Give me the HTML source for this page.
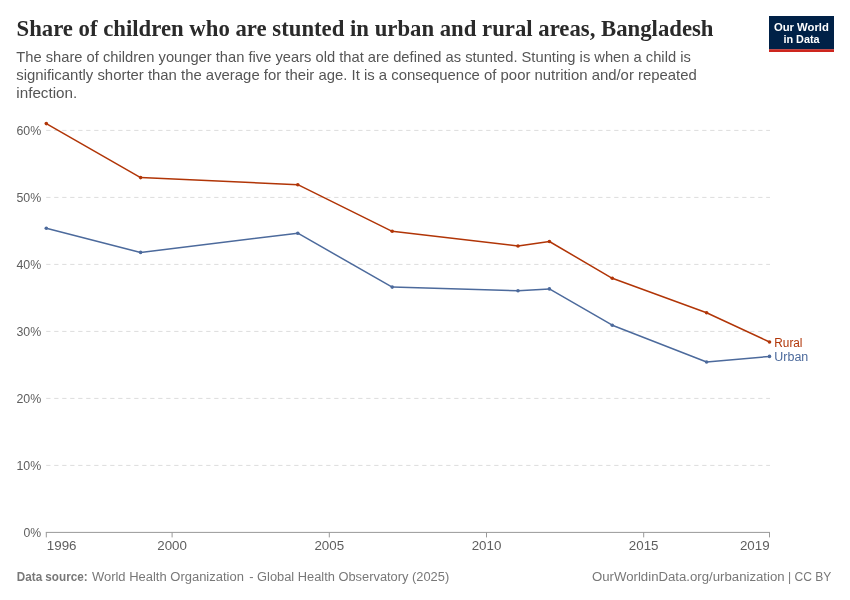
<!DOCTYPE html>
<html lang="en"><head><meta charset="utf-8"><title>Share of children who are stunted in urban and rural areas, Bangladesh</title>
<style>
html,body{margin:0;padding:0;background:#fff;}
body{width:850px;height:600px;overflow:hidden;}
svg{display:block;}
text{font-family:"Liberation Sans",sans-serif;}
.title{font-family:"Liberation Serif",serif;font-weight:bold;font-size:24px;fill:#2a2a2a;}
.sub{font-size:15px;fill:#555;}
.tick{font-size:13px;fill:#5e5e5e;}
.foot{font-size:12px;fill:#787878;}
.logo{font-size:11.6px;font-weight:bold;fill:#fff;}
.lab{font-size:12px;}
</style></head><body>
<svg width="850" height="600" viewBox="0 0 850 600">
<rect x="0" y="0" width="850" height="600" fill="#fff"/>
<text class="title" x="16.5" y="36.2" textLength="697" lengthAdjust="spacingAndGlyphs">Share of children who are stunted in urban and rural areas, Bangladesh</text>
<text class="sub" x="16.3" y="62.1" textLength="674.5" lengthAdjust="spacingAndGlyphs">The share of children younger than five years old that are defined as stunted. Stunting is when a child is</text>
<text class="sub" x="16.3" y="80.1" textLength="680.5" lengthAdjust="spacingAndGlyphs">significantly shorter than the average for their age. It is a consequence of poor nutrition and/or repeated</text>
<text class="sub" x="16.3" y="98.0" textLength="61" lengthAdjust="spacingAndGlyphs">infection.</text>
<rect x="769" y="16" width="65" height="33.4" fill="#002147"/><rect x="769" y="49.3" width="65" height="2.7" fill="#ce261e"/>
<text class="logo" x="801.4" y="31.0" text-anchor="middle" textLength="55" lengthAdjust="spacingAndGlyphs">Our World</text>
<text class="logo" x="801.5" y="42.8" text-anchor="middle" textLength="36.2" lengthAdjust="spacingAndGlyphs">in Data</text>
<line x1="46.2" x2="770" y1="465.4" y2="465.4" stroke="#ddd" stroke-width="1" stroke-dasharray="4.3 3.7"/>
<line x1="46.2" x2="770" y1="398.4" y2="398.4" stroke="#ddd" stroke-width="1" stroke-dasharray="4.3 3.7"/>
<line x1="46.2" x2="770" y1="331.4" y2="331.4" stroke="#ddd" stroke-width="1" stroke-dasharray="4.3 3.7"/>
<line x1="46.2" x2="770" y1="264.4" y2="264.4" stroke="#ddd" stroke-width="1" stroke-dasharray="4.3 3.7"/>
<line x1="46.2" x2="770" y1="197.4" y2="197.4" stroke="#ddd" stroke-width="1" stroke-dasharray="4.3 3.7"/>
<line x1="46.2" x2="770" y1="130.4" y2="130.4" stroke="#ddd" stroke-width="1" stroke-dasharray="4.3 3.7"/>
<text class="tick" x="41.2" y="537.0" text-anchor="end" textLength="17.7" lengthAdjust="spacingAndGlyphs">0%</text>
<text class="tick" x="41.2" y="470.0" text-anchor="end" textLength="24.8" lengthAdjust="spacingAndGlyphs">10%</text>
<text class="tick" x="41.2" y="403.0" text-anchor="end" textLength="24.8" lengthAdjust="spacingAndGlyphs">20%</text>
<text class="tick" x="41.2" y="336.0" text-anchor="end" textLength="24.8" lengthAdjust="spacingAndGlyphs">30%</text>
<text class="tick" x="41.2" y="269.0" text-anchor="end" textLength="24.8" lengthAdjust="spacingAndGlyphs">40%</text>
<text class="tick" x="41.2" y="202.0" text-anchor="end" textLength="24.8" lengthAdjust="spacingAndGlyphs">50%</text>
<text class="tick" x="41.2" y="135.0" text-anchor="end" textLength="24.8" lengthAdjust="spacingAndGlyphs">60%</text>
<line x1="45.8" x2="770" y1="532.4" y2="532.4" stroke="#999" stroke-width="1"/>
<line x1="46.3" x2="46.3" y1="532.4" y2="537.4" stroke="#999" stroke-width="1"/>
<text class="tick" x="46.8" y="550.3" textLength="29.7" lengthAdjust="spacingAndGlyphs">1996</text>
<line x1="172.1" x2="172.1" y1="532.4" y2="537.4" stroke="#999" stroke-width="1"/>
<text class="tick" x="172.1" y="550.3" text-anchor="middle" textLength="29.7" lengthAdjust="spacingAndGlyphs">2000</text>
<line x1="329.3" x2="329.3" y1="532.4" y2="537.4" stroke="#999" stroke-width="1"/>
<text class="tick" x="329.3" y="550.3" text-anchor="middle" textLength="29.7" lengthAdjust="spacingAndGlyphs">2005</text>
<line x1="486.5" x2="486.5" y1="532.4" y2="537.4" stroke="#999" stroke-width="1"/>
<text class="tick" x="486.5" y="550.3" text-anchor="middle" textLength="29.7" lengthAdjust="spacingAndGlyphs">2010</text>
<line x1="643.7" x2="643.7" y1="532.4" y2="537.4" stroke="#999" stroke-width="1"/>
<text class="tick" x="643.7" y="550.3" text-anchor="middle" textLength="29.7" lengthAdjust="spacingAndGlyphs">2015</text>
<line x1="769.5" x2="769.5" y1="532.4" y2="537.4" stroke="#999" stroke-width="1"/>
<text class="tick" x="769.6" y="550.3" text-anchor="end" textLength="29.7" lengthAdjust="spacingAndGlyphs">2019</text>
<polyline points="46.3,228.2 140.6,252.4 297.8,233.2 392.2,287.1 518.0,290.8 549.4,288.9 612.3,325.2 706.6,362 769.5,356.4" fill="none" stroke="#4C6A9C" stroke-width="1.5" stroke-linejoin="round" stroke-linecap="round"/>
<circle cx="46.3" cy="228.2" r="1.8" fill="#4C6A9C"/>
<circle cx="140.6" cy="252.4" r="1.8" fill="#4C6A9C"/>
<circle cx="297.8" cy="233.2" r="1.8" fill="#4C6A9C"/>
<circle cx="392.2" cy="287.1" r="1.8" fill="#4C6A9C"/>
<circle cx="518.0" cy="290.8" r="1.8" fill="#4C6A9C"/>
<circle cx="549.4" cy="288.9" r="1.8" fill="#4C6A9C"/>
<circle cx="612.3" cy="325.2" r="1.8" fill="#4C6A9C"/>
<circle cx="706.6" cy="362" r="1.8" fill="#4C6A9C"/>
<circle cx="769.5" cy="356.4" r="1.8" fill="#4C6A9C"/>
<polyline points="46.3,123.6 140.6,177.6 297.8,184.7 392.2,231.3 518.0,246 549.4,241.5 612.3,278.3 706.6,312.7 769.5,342" fill="none" stroke="#B13507" stroke-width="1.5" stroke-linejoin="round" stroke-linecap="round"/>
<circle cx="46.3" cy="123.6" r="1.8" fill="#B13507"/>
<circle cx="140.6" cy="177.6" r="1.8" fill="#B13507"/>
<circle cx="297.8" cy="184.7" r="1.8" fill="#B13507"/>
<circle cx="392.2" cy="231.3" r="1.8" fill="#B13507"/>
<circle cx="518.0" cy="246" r="1.8" fill="#B13507"/>
<circle cx="549.4" cy="241.5" r="1.8" fill="#B13507"/>
<circle cx="612.3" cy="278.3" r="1.8" fill="#B13507"/>
<circle cx="706.6" cy="312.7" r="1.8" fill="#B13507"/>
<circle cx="769.5" cy="342" r="1.8" fill="#B13507"/>
<text class="lab" x="774.3" y="346.7" textLength="28.2" lengthAdjust="spacingAndGlyphs" fill="#B13507">Rural</text>
<text class="lab" x="774.3" y="361.4" textLength="34" lengthAdjust="spacingAndGlyphs" fill="#4C6A9C">Urban</text>
<text class="foot" x="16.8" y="580.5" textLength="70.8" lengthAdjust="spacingAndGlyphs" font-weight="bold">Data source:</text>
<text class="foot" x="91.9" y="580.5" textLength="152" lengthAdjust="spacingAndGlyphs">World Health Organization</text>
<text class="foot" x="249.2" y="580.5" textLength="200" lengthAdjust="spacingAndGlyphs">- Global Health Observatory (2025)</text>
<text class="foot" x="592" y="580.5" textLength="192.6" lengthAdjust="spacingAndGlyphs">OurWorldinData.org/urbanization</text>
<text class="foot" x="788.0" y="580.5" textLength="43.4" lengthAdjust="spacingAndGlyphs">| CC BY</text>
</svg>
</body></html>
